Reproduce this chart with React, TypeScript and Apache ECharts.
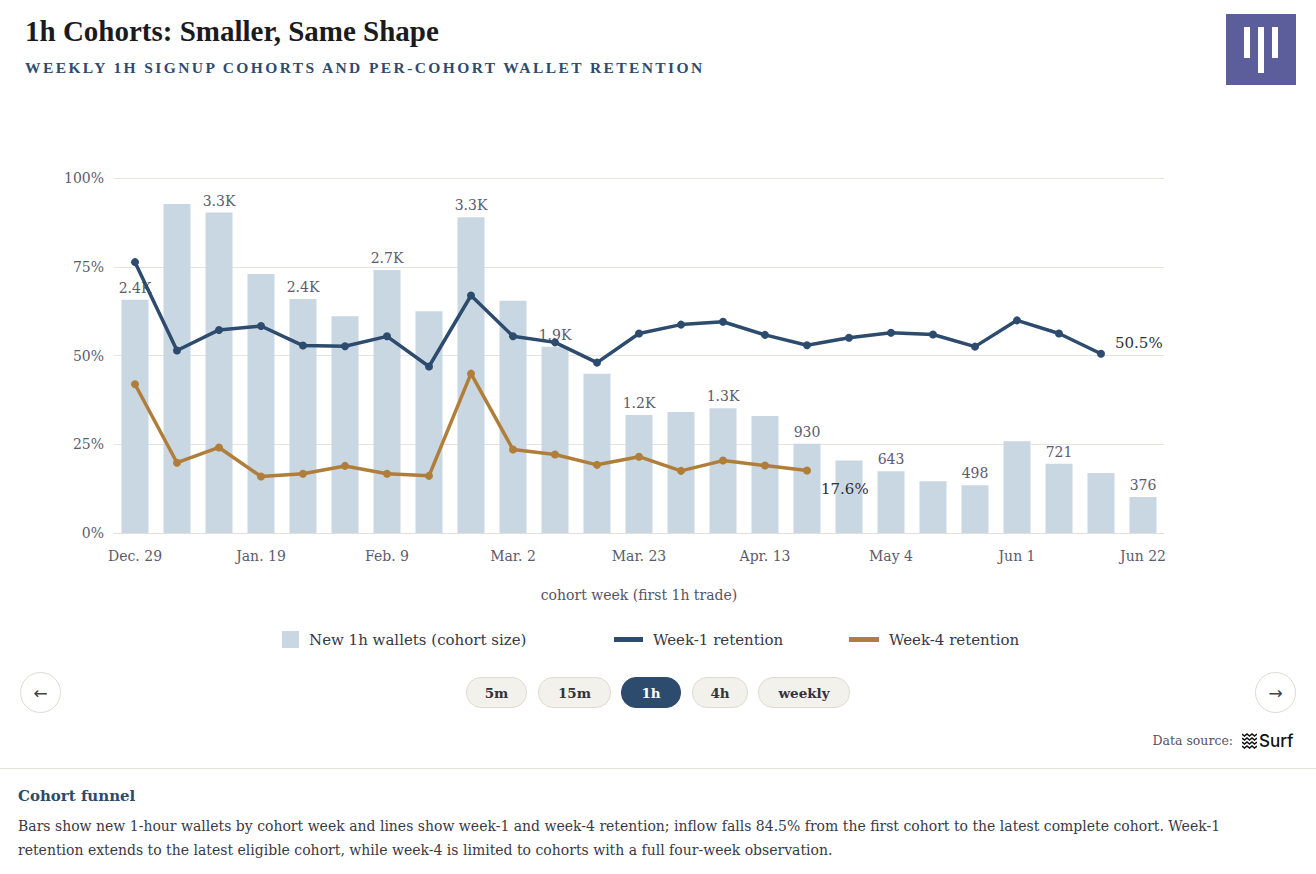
import React, { useEffect, useRef } from "react";
import * as echarts from "echarts";

const categories = [
  "Dec. 29", "Jan. 5", "Jan. 12", "Jan. 19", "Jan. 26", "Feb. 2", "Feb. 9", "Feb. 16", "Feb. 23",
  "Mar. 2", "Mar. 9", "Mar. 16", "Mar. 23", "Mar. 30", "Apr. 6", "Apr. 13", "Apr. 20", "Apr. 27",
  "May 4", "May 11", "May 18", "Jun 1", "Jun 8", "Jun 15", "Jun 22",
];
const cohortSize = [
  2430, 3430, 3340, 2700, 2440, 2260, 2740, 2310, 3290, 2420, 1940, 1660, 1230, 1260, 1300, 1220,
  930, 755, 643, 540, 498, 955, 721, 625, 376,
];
const week1Retention = [
  76.3, 51.4, 57.2, 58.3, 52.8, 52.6, 55.4, 46.9, 66.9, 55.4, 53.7, 48.0, 56.2, 58.7, 59.5, 55.8,
  52.9, 55.0, 56.4, 55.9, 52.5, 59.9, 56.2, 50.5,
];
const week4Retention = [
  41.9, 19.8, 24.1, 15.9, 16.7, 18.9, 16.7, 16.1, 44.9, 23.5, 22.1, 19.2, 21.5, 17.5, 20.4, 19.0, 17.6,
];
const percentTicks = [0, 25, 50, 75, 100];
const periodButtons = ["5m", "15m", "1h", "4h", "weekly"];

const SERIF = "'DejaVu Serif', serif";
const TITLE_SERIF = "'Liberation Serif', serif";
const NAVY = "#2c4b6d";
const TAN = "#b07e3a";
const BAR = "#c9d7e2";
const MUTED = "#5c5b6e";

function fmtCount(v: number): string {
  if (v >= 1000) return (v / 1000).toFixed(1) + "K";
  return String(v);
}

function Chart() {
  const ref = useRef<HTMLDivElement>(null);
  useEffect(() => {
    if (!ref.current) return;
    const chart = echarts.init(ref.current, undefined, { renderer: "svg" });
    const endLabel = (dy: number) => ({
      show: true,
      position: "right",
      distance: 10,
      offset: [0, dy],
      color: "#2f2f35",
      fontFamily: SERIF,
      fontSize: 15,
      formatter: (p: any) => Number(p.value).toFixed(1) + "%",
    });
    const w1 = week1Retention.map((v, i) =>
      i === week1Retention.length - 1 ? { value: v, label: endLabel(-11) } : v
    );
    const w4 = week4Retention.map((v, i) =>
      i === week4Retention.length - 1 ? { value: v, label: endLabel(18) } : v
    );
    const legendText = { fontFamily: SERIF, fontSize: 15, color: "#383744", lineHeight: 17, padding: [0, 0, 0, 5] };
    chart.setOption({
      animation: false,
      grid: { left: 114, width: 1050, top: 78, height: 355 },
      legend: [
        {
          data: ["New 1h wallets (cohort size)"], left: 282, top: 531, padding: 0,
          itemWidth: 17, itemHeight: 17, icon: "rect", textStyle: legendText, selectedMode: false,
        },
        {
          data: ["Week-1 retention"], left: 614, top: 531, padding: 0,
          itemWidth: 29, itemHeight: 5, icon: "rect", textStyle: legendText, selectedMode: false,
        },
        {
          data: ["Week-4 retention"], left: 849, top: 531, padding: 0,
          itemWidth: 30, itemHeight: 5, icon: "rect", textStyle: legendText, selectedMode: false,
        },
      ],
      xAxis: {
        type: "category",
        data: categories,
        axisTick: { show: false },
        axisLine: { show: true, lineStyle: { color: "#e2e0d8", width: 1 } },
        axisLabel: { interval: 2, color: MUTED, fontFamily: SERIF, fontSize: 14, margin: 16 },
        name: "cohort week (first 1h trade)",
        nameLocation: "middle",
        nameGap: 55,
        nameTextStyle: { color: "#55545f", fontFamily: SERIF, fontSize: 14 },
      },
      yAxis: [
        {
          type: "value",
          min: percentTicks[0],
          max: percentTicks[percentTicks.length - 1],
          interval: 25,
          axisLine: { show: false },
          axisTick: { show: false },
          axisLabel: { formatter: "{value}%", color: MUTED, fontFamily: SERIF, fontSize: 14, margin: 10 },
          splitLine: { lineStyle: { color: "#e6e4de", width: 1 } },
        },
        { type: "value", min: 0, max: 3700, show: false, splitLine: { show: false } },
      ],
      series: [
        {
          name: "New 1h wallets (cohort size)",
          type: "bar",
          yAxisIndex: 1,
          data: cohortSize,
          barWidth: 27,
          itemStyle: { color: BAR },
          label: {
            show: true,
            position: "top",
            distance: 5,
            color: MUTED,
            fontFamily: SERIF,
            fontSize: 14,
            formatter: (p: any) => (p.dataIndex % 2 === 0 ? fmtCount(p.value) : ""),
          },
          silent: true,
        },
        {
          name: "Week-1 retention",
          type: "line",
          yAxisIndex: 0,
          data: w1,
          color: NAVY,
          lineStyle: { width: 3.5, color: NAVY },
          itemStyle: { color: NAVY },
          symbol: "circle",
          symbolSize: 8,
          z: 3,
        },
        {
          name: "Week-4 retention",
          type: "line",
          yAxisIndex: 0,
          data: w4,
          color: TAN,
          lineStyle: { width: 3.5, color: TAN },
          itemStyle: { color: TAN },
          symbol: "circle",
          symbolSize: 8,
          z: 3,
        },
      ],
    });
    return () => chart.dispose();
  }, []);
  return <div ref={ref} style={{ position: "absolute", left: 0, top: 100, width: 1316, height: 560 }} />;
}

function SurfIcon() {
  const lines = [0, 4, 8, 12];
  return (
    <svg width="15" height="16" viewBox="0 0 15 16" style={{ position: "absolute", left: 1242, top: 733 }}>
      {lines.map((y) => (
        <polyline
          key={y}
          points={`0,${y + 1} 2.5,${y + 3} 5,${y + 1} 7.5,${y + 3} 10,${y + 1} 12.5,${y + 3} 15,${y + 1}`}
          fill="none"
          stroke="#111"
          strokeWidth="1.6"
        />
      ))}
    </svg>
  );
}

export default function App() {
  const btnLefts = [466, 538, 621, 692, 758];
  const btnWidths = [61, 73, 60, 56, 92];
  return (
    <div
      style={{
        position: "absolute", left: 0, top: 0, width: 1316, height: 874, background: "#fff",
        overflow: "hidden", fontFamily: SERIF,
      }}
    >
      <div
        style={{
          position: "absolute", left: 25, top: 17, fontFamily: TITLE_SERIF, fontSize: 29, lineHeight: "29px",
          fontWeight: 700, color: "#1b1b1f", whiteSpace: "nowrap",
        }}
      >
        1h Cohorts: Smaller, Same Shape
      </div>
      <div
        style={{
          position: "absolute", left: 25, top: 60, fontFamily: TITLE_SERIF, fontSize: 15.5, lineHeight: "16px",
          fontWeight: 700, color: "#2d4c70", letterSpacing: "2.4px", whiteSpace: "nowrap",
        }}
      >
        WEEKLY 1H SIGNUP COHORTS AND PER-COHORT WALLET RETENTION
      </div>
      <svg width="70" height="71" style={{ position: "absolute", left: 1226, top: 14 }}>
        <rect x="0" y="0" width="70" height="71" fill="#5c5e9c" />
        <rect x="18" y="13" width="6" height="31" fill="#fff" />
        <rect x="32" y="13" width="6" height="46" fill="#fff" />
        <rect x="46" y="13" width="6" height="31" fill="#fff" />
      </svg>

      <Chart />

      {["←", "→"].map((a, i) => (
        <div
          key={a}
          style={{
            position: "absolute", left: i === 0 ? 20 : 1255, top: 672, width: 39, height: 39,
            border: "1px solid #dddbd4", borderRadius: "50%", background: "#fff", color: "#444",
            display: "flex", alignItems: "center", justifyContent: "center", fontSize: 17,
            fontFamily: "'DejaVu Sans', sans-serif",
          }}
        >
          {a}
        </div>
      ))}
      {periodButtons.map((b, i) => {
        const active = b === "1h";
        return (
          <div
            key={b}
            style={{
              position: "absolute", left: btnLefts[i], top: 677, width: btnWidths[i] - 2, height: 29,
              border: `1px solid ${active ? NAVY : "#dddbd3"}`, borderRadius: 15,
              background: active ? NAVY : "#f2f1ec", color: active ? "#fff" : "#34333d",
              display: "flex", alignItems: "center", justifyContent: "center",
              fontFamily: SERIF, fontWeight: 700, fontSize: 13.5,
            }}
          >
            {b}
          </div>
        );
      })}

      <div
        style={{
          position: "absolute", right: 1316 - 1233, top: 732, fontFamily: SERIF, fontSize: 12.5,
          lineHeight: "18px", color: "#55545f", whiteSpace: "nowrap",
        }}
      >
        Data source:
      </div>
      <SurfIcon />
      <div
        style={{
          position: "absolute", left: 1259, top: 731, fontFamily: "Inter, sans-serif", fontSize: 17,
          lineHeight: "20px", fontWeight: 500, color: "#111",
        }}
      >
        Surf
      </div>

      <div style={{ position: "absolute", left: 0, top: 768, width: 1316, height: 1, background: "#e3e1da" }} />
      <div
        style={{
          position: "absolute", left: 18, top: 786, fontFamily: SERIF, fontWeight: 700, fontSize: 15,
          lineHeight: "20px", color: NAVY, whiteSpace: "nowrap",
        }}
      >
        Cohort funnel
      </div>
      <div
        style={{
          position: "absolute", left: 18, top: 814, fontFamily: SERIF, fontSize: 14, lineHeight: "24px",
          color: "#3a3944", whiteSpace: "nowrap",
        }}
      >
        Bars show new 1-hour wallets by cohort week and lines show week-1 and week-4 retention; inflow falls
        84.5% from the first cohort to the latest complete cohort. Week-1
        <br />
        retention extends to the latest eligible cohort, while week-4 is limited to cohorts with a full
        four-week observation.
      </div>
    </div>
  );
}
